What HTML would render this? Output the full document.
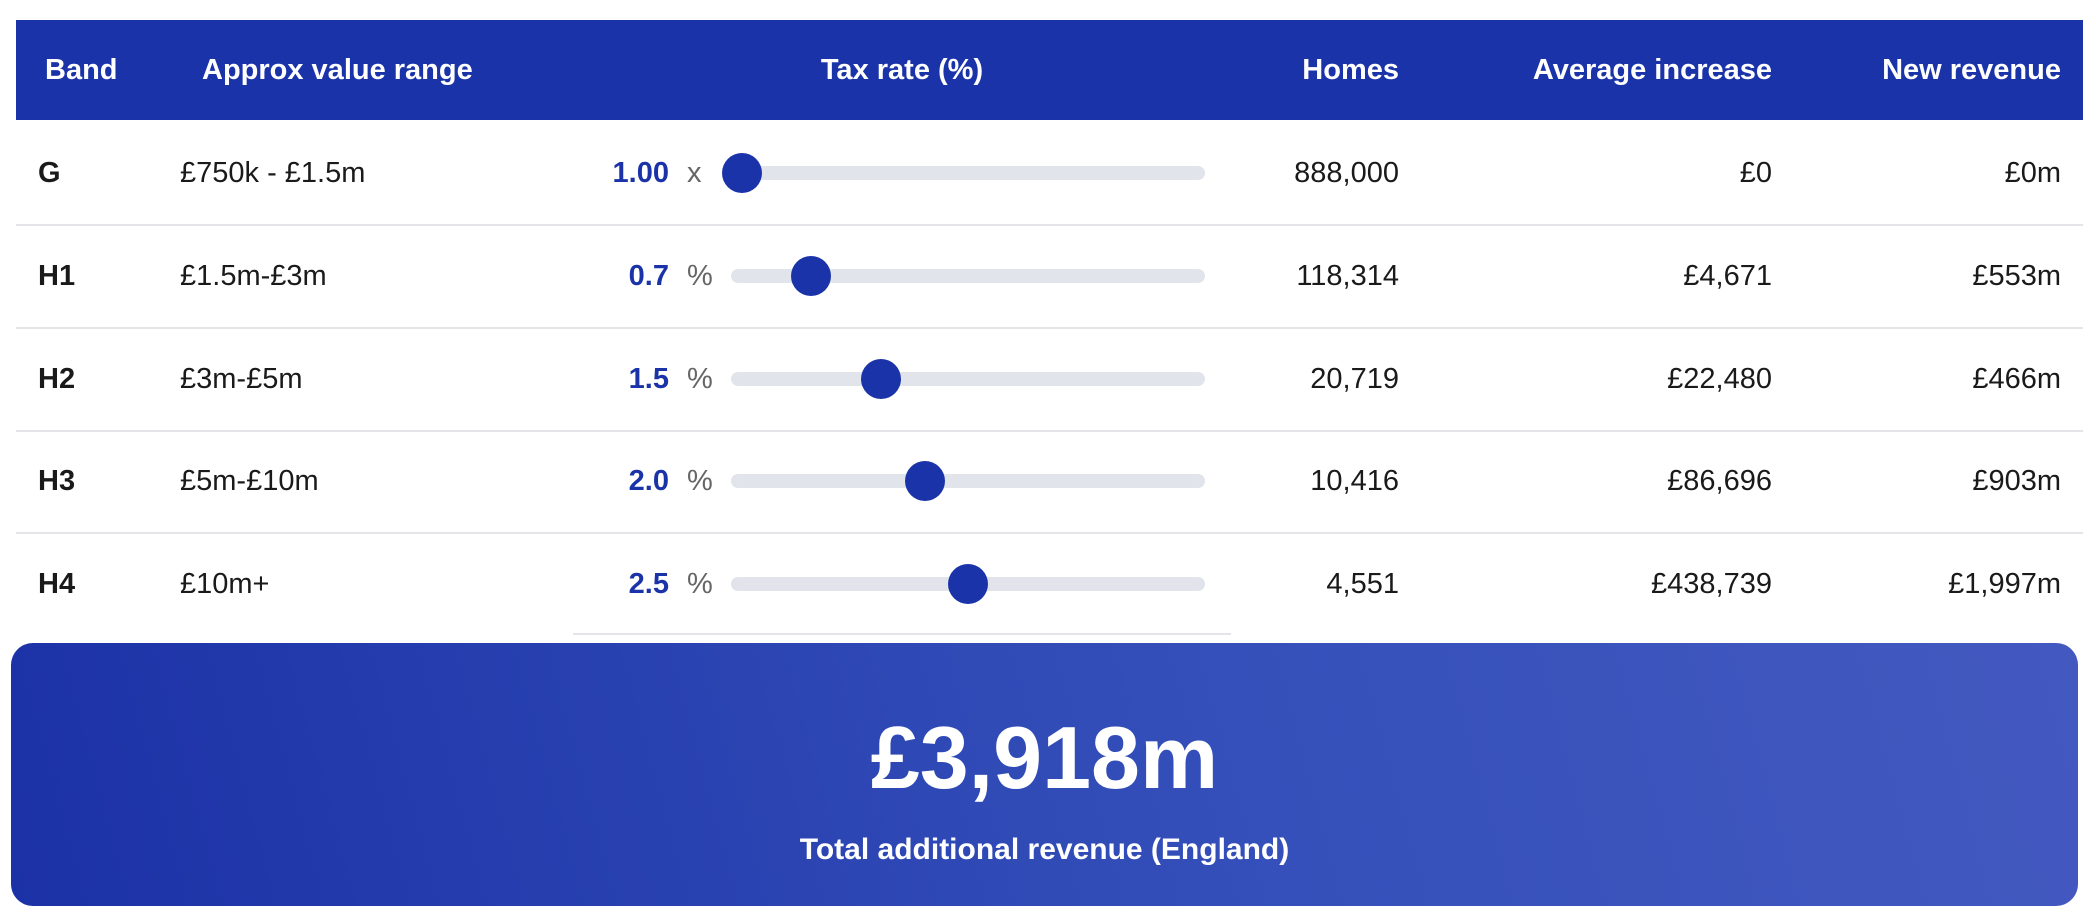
<!DOCTYPE html>
<html><head><meta charset="utf-8"><style>
body{margin:0;width:2096px;height:921px;background:#fff;font-family:"Liberation Sans",sans-serif;position:relative;overflow:hidden;color:#1a1a1a}
.a{position:absolute;white-space:nowrap}
.hdr{position:absolute;left:16px;top:20px;width:2067px;height:100px;background:#1b33a8}
.h{position:absolute;top:50px;font-weight:bold;font-size:29px;color:#fff;line-height:40px}
.r{font-size:29px;line-height:40px}
.sep{position:absolute;height:2px;background:#e3e5e8}
.trk{position:absolute;left:731px;width:474px;height:14px;border-radius:7px;background:#e1e4ea}
.th{position:absolute;width:40px;height:40px;border-radius:50%;background:#1b33a8}
.v{font-weight:bold;color:#1b33a8}
.u{color:#666}
.box{position:absolute;left:11px;top:643px;width:2067px;height:263px;border-radius:22px;background:linear-gradient(75deg,#1b31a6 0%,#3550ba 60%,#4359c0 100%)}
</style></head><body>
<div class="hdr"></div>
<div class="h" style="left:45px">Band</div>
<div class="h" style="left:202px">Approx value range</div>
<div class="h" style="left:802px;width:200px;text-align:center">Tax rate (%)</div>
<div class="h" style="right:697px">Homes</div>
<div class="h" style="right:324px">Average increase</div>
<div class="h" style="right:35px">New revenue</div>

<div class="sep" style="left:16px;width:2067px;top:224px"></div>
<div class="sep" style="left:16px;width:2067px;top:327px"></div>
<div class="sep" style="left:16px;width:2067px;top:430px"></div>
<div class="sep" style="left:16px;width:2067px;top:532px"></div>
<div class="sep" style="left:573px;width:658px;top:633px"></div>

<!-- rows -->
<div class="a r" style="left:38px;top:153px;font-weight:bold">G</div>
<div class="a r" style="left:180px;top:153px">£750k - £1.5m</div>
<div class="a r v" style="right:1427px;top:153px">1.00</div>
<div class="a r u" style="left:687px;top:153px">x</div>
<div class="trk" style="top:166px"></div><div class="th" style="left:722px;top:153px"></div>
<div class="a r" style="right:697px;top:153px">888,000</div>
<div class="a r" style="right:324px;top:153px">£0</div>
<div class="a r" style="right:35px;top:153px">£0m</div>

<div class="a r" style="left:38px;top:256px;font-weight:bold">H1</div>
<div class="a r" style="left:180px;top:256px">£1.5m-£3m</div>
<div class="a r v" style="right:1427px;top:256px">0.7</div>
<div class="a r u" style="left:687px;top:256px">%</div>
<div class="trk" style="top:269px"></div><div class="th" style="left:791px;top:256px"></div>
<div class="a r" style="right:697px;top:256px">118,314</div>
<div class="a r" style="right:324px;top:256px">£4,671</div>
<div class="a r" style="right:35px;top:256px">£553m</div>

<div class="a r" style="left:38px;top:359px;font-weight:bold">H2</div>
<div class="a r" style="left:180px;top:359px">£3m-£5m</div>
<div class="a r v" style="right:1427px;top:359px">1.5</div>
<div class="a r u" style="left:687px;top:359px">%</div>
<div class="trk" style="top:372px"></div><div class="th" style="left:861px;top:359px"></div>
<div class="a r" style="right:697px;top:359px">20,719</div>
<div class="a r" style="right:324px;top:359px">£22,480</div>
<div class="a r" style="right:35px;top:359px">£466m</div>

<div class="a r" style="left:38px;top:461px;font-weight:bold">H3</div>
<div class="a r" style="left:180px;top:461px">£5m-£10m</div>
<div class="a r v" style="right:1427px;top:461px">2.0</div>
<div class="a r u" style="left:687px;top:461px">%</div>
<div class="trk" style="top:474px"></div><div class="th" style="left:905px;top:461px"></div>
<div class="a r" style="right:697px;top:461px">10,416</div>
<div class="a r" style="right:324px;top:461px">£86,696</div>
<div class="a r" style="right:35px;top:461px">£903m</div>

<div class="a r" style="left:38px;top:564px;font-weight:bold">H4</div>
<div class="a r" style="left:180px;top:564px">£10m+</div>
<div class="a r v" style="right:1427px;top:564px">2.5</div>
<div class="a r u" style="left:687px;top:564px">%</div>
<div class="trk" style="top:577px"></div><div class="th" style="left:948px;top:564px"></div>
<div class="a r" style="right:697px;top:564px">4,551</div>
<div class="a r" style="right:324px;top:564px">£438,739</div>
<div class="a r" style="right:35px;top:564px">£1,997m</div>

<div class="box"></div>
<div class="a" style="left:11px;width:2067px;text-align:center;top:705px;font-size:88px;line-height:106px;font-weight:bold;color:#fff">£3,918m</div>
<div class="a" style="left:11px;width:2067px;text-align:center;top:830px;font-size:30px;line-height:40px;font-weight:bold;color:#fff">Total additional revenue (England)</div>
</body></html>
